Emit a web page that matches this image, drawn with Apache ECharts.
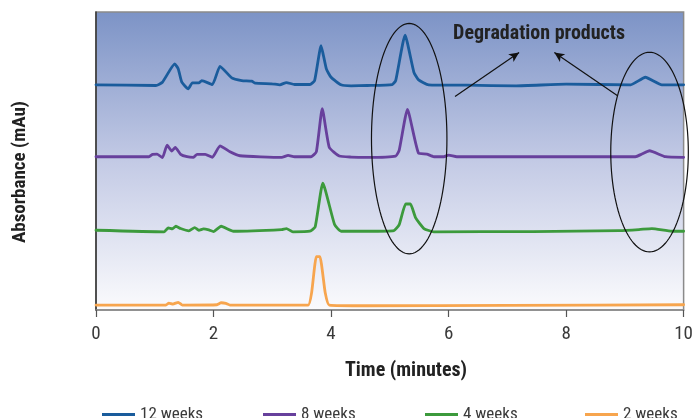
<!DOCTYPE html>
<html><head><meta charset="utf-8">
<script src="https://cdn.jsdelivr.net/npm/echarts@6/dist/echarts.min.js"></script>
<style>html,body{margin:0;padding:0;background:#fff}#c{width:696px;height:418px}</style>
</head><body><div id="c"></div>
<script>
// ---- data (time in minutes, absorbance relative to each trace's baseline) ----
const seriesNames = ['12 weeks', '8 weeks', '4 weeks', '2 weeks'];
const xTicks = [0, 2, 4, 6, 8, 10];
const traceOffsets = [226, 154, 79.5, 5];

const time12 = [0,1.02,1.13,1.34,1.40,1.46,1.57,1.64,1.75,1.80,1.98,2.11,2.31,2.48,2.65,2.71,2.99,3.13,3.24,3.38,3.64,3.72,3.83,3.92,4.00,4.17,4.34,4.62,5.04,5.10,5.26,5.41,5.49,5.66,6.31,7.15,8.0,9.10,9.35,9.63,10];
const abs12  = [0.7,0,3.3,21.7,16.7,3.3,-3.3,2.7,2.7,5,1,19.3,7.7,5,4.3,2.3,1.7,0.7,3,1,1,5,40,16.7,8.3,0.7,-0.3,0,1,5,50.7,13.3,5.7,0.7,0.3,-0.3,1.3,0.7,8.3,0.7,0.7];

const time8 = [0,0.90,0.96,1.04,1.13,1.21,1.29,1.35,1.44,1.55,1.66,1.72,1.86,1.98,2.11,2.28,2.45,3.16,3.27,3.38,3.66,3.75,3.85,3.97,4.14,4.34,4.62,5.10,5.16,5.30,5.49,5.63,5.75,5.92,6.00,6.14,9.18,9.29,9.42,9.69,10];
const abs8  = [0.3,0.3,2.7,3,-0.7,12,6,9.7,2.7,0.3,-0.3,2.7,2.7,-0.3,11.3,5.3,1.3,-0.3,1.7,0.3,0.3,5.3,48.7,9.7,1,0,-0.3,1,7,48,3.7,3,0.3,0.3,2,0.3,0.3,3,6.3,0.3,-0.3];

const time4 = [0,1.16,1.23,1.30,1.36,1.44,1.58,1.68,1.75,1.83,1.92,2.00,2.13,2.34,3.16,3.24,3.35,3.64,3.73,3.86,4.06,4.17,4.62,5.07,5.16,5.27,5.35,5.44,5.58,5.75,7.44,8.90,9.24,9.46,9.80,10];
const abs4  = [0.8,-0.8,3.2,2.2,4.8,2.5,0.2,3.5,0.8,2.2,1.2,-0.5,4.8,-0.2,1.5,2.5,-0.8,-0.2,4.2,48.2,6.5,-0.2,-0.2,0.5,6.5,27.2,27.2,13.2,2.5,-0.8,-0.5,0.5,1.5,2.5,-0.2,-0.2];

const time2 = [0,1.19,1.24,1.31,1.40,1.47,2.06,2.13,2.21,2.28,3.61,3.67,3.75,3.81,3.90,3.97,4.62,7.0,10];
const abs2  = [0,0,2,1,2.7,0,0.3,2.3,1.7,0,0,12.7,48.7,48.7,12.7,0,-0.7,-0.3,0.3];

// annotations in data units [time, display value]
const annoText = 'Degradation products';
const annoTextPos = [7.54, 278];
const ellipses = [ {c:[5.33,172.5], rt:0.642, rv:116}, {c:[9.42,159], rt:0.66, rv:100.5} ];
const arrows = [ [[6.11,215],[7.20,259.3]], [[8.87,216],[7.80,259.3]] ];

const colors = ['#1a5c9c', '#67409c', '#3c9a3c', '#f7a54e'];
const FONT = '"Liberation Sans Narrow","Arial Narrow","Roboto Condensed","Liberation Sans",sans-serif';

const times = [time12, time8, time4, time2];
const abss = [abs12, abs8, abs4, abs2];

const chart = echarts.init(document.getElementById('c'), null, {renderer:'canvas'});

const series = seriesNames.map((n, i) => ({
  name: n, type: 'line', smooth: 0.15, symbol: 'none', animation: false,
  data: times[i].map((t, k) => [t, abss[i][k] + traceOffsets[i]]),
  lineStyle: {color: colors[i], width: 2.8, join: 'round', cap: 'round'},
  itemStyle: {color: colors[i]},
  z: 3,
  markLine: i === 0 ? {
    silent: true, animation: false, symbol: ['none', 'arrow'], symbolSize: [7, 10],
    label: {show: false},
    lineStyle: {color: '#111', width: 1.2, type: 'solid'},
    data: arrows.map(a => [{coord: a[0]}, {coord: a[1]}])
  } : undefined
}));

const legendLefts = [97, 258, 420, 580];
const legends = seriesNames.map((n, i) => ({
  data: [n], left: legendLefts[i], top: 401, itemWidth: 33, itemHeight: 3, icon: 'rect',
  itemGap: 10, textStyle: {fontFamily: FONT, fontSize: 17, color: '#3a3a3a'}, selectedMode: false
}));

chart.setOption({
  animation: false,
  backgroundColor: '#fff',
  grid: {left: 96, right: 7, top: 12, bottom: 108, show: true, borderColor: '#8a8a8a', borderWidth: 1.5,
    backgroundColor: {type: 'linear', x: 0, y: 0, x2: 0, y2: 1, colorStops: [
      {offset: 0, color: '#7c93c6'}, {offset: 0.5, color: '#c3cae5'}, {offset: 1, color: '#fbfbfd'}]}},
  xAxis: {type: 'value', min: 0, max: 10, interval: 2,
    axisLine: {show: true, lineStyle: {color: '#8a8a8a', width: 1.5}},
    axisTick: {show: true, length: 7, lineStyle: {color: '#555', width: 1.2}},
    axisLabel: {margin: 15, fontFamily: FONT, fontSize: 19, color: '#3a3a3a',
      formatter: v => xTicks.includes(v) ? String(v) : ''},
    splitLine: {show: false}},
  yAxis: {type: 'value', min: 0, max: 300,
    axisLine: {show: true, lineStyle: {color: '#333', width: 1.5}},
    axisTick: {show: false}, axisLabel: {show: false}, splitLine: {show: false}},
  legend: legends,
  series: series
});

function px(p) { return chart.convertToPixel({gridIndex: 0}, p); }
const graphics = [];
ellipses.forEach(e => {
  const c = px(e.c);
  const r1 = px([e.c[0] + e.rt, e.c[1] + e.rv]);
  const rx = r1[0] - c[0], ry = c[1] - r1[1];
  const pts = [];
  for (let k = 0; k < 120; k++) { const a = k / 120 * Math.PI * 2; pts.push([c[0] + rx * Math.cos(a), c[1] + ry * Math.sin(a)]); }
  graphics.push({type: 'polygon', shape: {points: pts}, style: {fill: 'none', stroke: '#111', lineWidth: 1.2}, z: 10, silent: true});
});
const tp = px(annoTextPos);
graphics.push({type: 'text', x: tp[0], y: tp[1], z: 10, style: {text: annoText, fill: '#222', font: 'bold 20px ' + FONT, textAlign: 'center', textVerticalAlign: 'middle'}});
graphics.push({type: 'text', x: 20, y: 172, rotation: Math.PI / 2, style: {text: 'Absorbance (mAu)', fill: '#222', font: 'bold 19px ' + FONT, textAlign: 'center', textVerticalAlign: 'middle'}});
graphics.push({type: 'text', x: 406, y: 371, style: {text: 'Time (minutes)', fill: '#222', font: 'bold 20px ' + FONT, textAlign: 'center', textVerticalAlign: 'middle'}});
chart.setOption({graphic: graphics});
</script></body></html>
